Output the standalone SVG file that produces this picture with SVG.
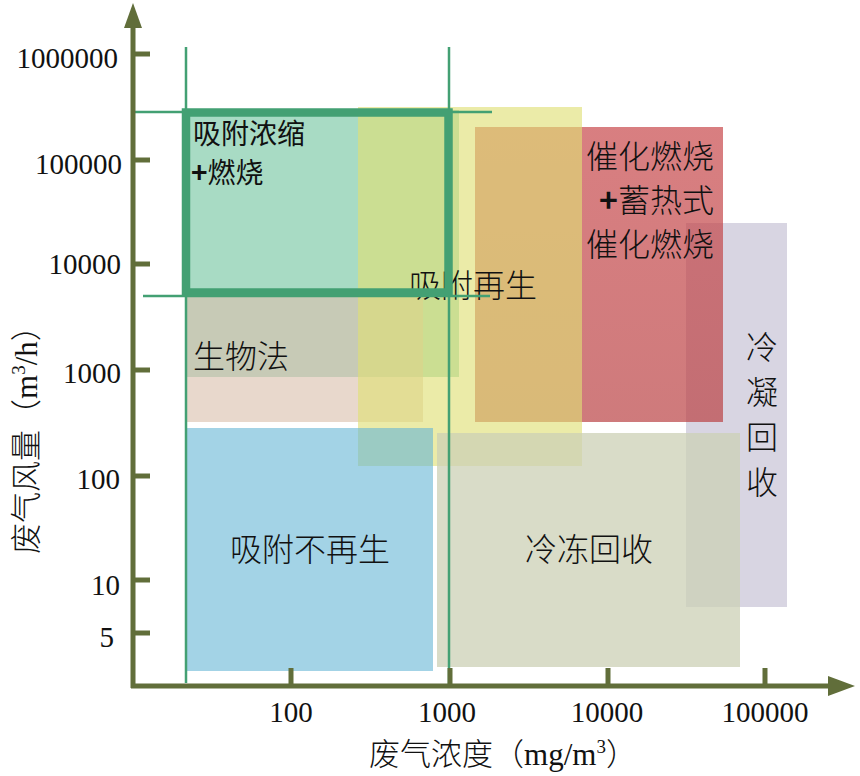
<svg xmlns="http://www.w3.org/2000/svg" width="860" height="776" viewBox="0 0 860 776">
<defs>
<style>
.axis{stroke:#616e3a;stroke-width:5;fill:none}
.tick{stroke:#616e3a;stroke-width:5;fill:none}
.arrow{fill:#616e3a}
.guide{stroke:#43a073;stroke-width:2.5;fill:none}
.frame{stroke:#43a073;stroke-width:8.5;fill:none}
.num{font-family:"Liberation Serif","Times New Roman",serif;font-size:29px;fill:#111}
.lbl{font-family:"Noto Sans CJK SC","Noto Sans",sans-serif;font-size:32px;font-weight:300;fill:#111}
.lblb{font-family:"Noto Sans CJK SC","Noto Sans",sans-serif;font-size:28px;font-weight:400;fill:#111}
.title{font-family:"Liberation Serif","Noto Sans CJK SC",serif;font-size:31px;font-weight:300;fill:#111}
</style>
<linearGradient id="redgrad" x1="0" y1="0" x2="0" y2="1">
<stop offset="0" stop-color="rgb(200,72,75)"/>
<stop offset="1" stop-color="rgb(186,66,68)"/>
</linearGradient>
</defs>
<rect width="860" height="776" fill="#ffffff"/>

<g id="regions">
<g id="adsorb-concentrate">
<rect x="186" y="110" width="273" height="267" fill="#a8dbc4"/>
<text class="lblb" x="193" y="144">吸附浓缩</text>
<text class="lblb" x="191" y="183"><tspan font-weight="700">+</tspan>燃烧</text>
</g>
<g id="biological">
<rect x="186" y="296" width="237" height="126" fill="rgb(218,192,173)" fill-opacity="0.62"/>
<text class="lbl" x="193" y="368">生物法</text>
</g>
<g id="condensation">
<rect x="686" y="223" width="101" height="384" fill="#d8d5e2"/>
<text class="lbl" x="762" y="359" text-anchor="middle">冷</text>
<text class="lbl" x="762" y="404" text-anchor="middle">凝</text>
<text class="lbl" x="762" y="449" text-anchor="middle">回</text>
<text class="lbl" x="762" y="494" text-anchor="middle">收</text>
</g>
<g id="catalytic">
<rect x="475" y="127" width="248" height="295" fill="url(#redgrad)" fill-opacity="0.7"/>
<text class="lbl" x="714" y="168" text-anchor="end">催化燃烧</text>
<text class="lbl" x="714" y="212" text-anchor="end"><tspan font-weight="700">+</tspan>蓄热式</text>
<text class="lbl" x="714" y="256" text-anchor="end">催化燃烧</text>
</g>
<g id="adsorb-regen">
<rect x="358" y="107" width="224" height="359" fill="rgb(223,223,117)" fill-opacity="0.63"/>
<text class="lbl" x="473" y="297" text-anchor="middle">吸附再生</text>
</g>
<g id="adsorb-noregen">
<rect x="186" y="428" width="247" height="243" fill="rgb(102,182,213)" fill-opacity="0.6"/>
<text class="lbl" x="310" y="561" text-anchor="middle">吸附不再生</text>
</g>
<g id="freeze-recovery">
<rect x="437" y="433" width="303" height="234" fill="rgb(204,208,182)" fill-opacity="0.75"/>
<text class="lbl" x="589" y="561" text-anchor="middle">冷冻回收</text>
</g>
</g>

<g id="connectors">
<line class="guide" x1="186" y1="47" x2="186" y2="683"/>
<line class="guide" x1="449" y1="47" x2="449" y2="686"/>
<line class="guide" x1="133" y1="112" x2="492" y2="112"/>
<line class="guide" x1="143" y1="296" x2="490" y2="296"/>
<rect class="frame" x="186" y="112.5" width="262.5" height="180"/>

<line class="axis" x1="133" y1="688" x2="133" y2="26"/>
<polygon class="arrow" points="133,3 124,28 142,28"/>
<line class="axis" x1="131" y1="686" x2="830" y2="686"/>
<polygon class="arrow" points="855,686 828,676 828,696"/>

<line class="tick" x1="133" y1="54" x2="150" y2="54"/>
<line class="tick" x1="133" y1="160" x2="150" y2="160"/>
<line class="tick" x1="133" y1="264" x2="150" y2="264"/>
<line class="tick" x1="133" y1="370" x2="150" y2="370"/>
<line class="tick" x1="133" y1="476" x2="150" y2="476"/>
<line class="tick" x1="133" y1="580" x2="150" y2="580"/>
<line class="tick" x1="133" y1="633" x2="150" y2="633"/>

<line class="tick" x1="291" y1="686" x2="291" y2="668"/>
<line class="tick" x1="450" y1="686" x2="450" y2="668"/>
<line class="tick" x1="608" y1="686" x2="608" y2="668"/>
<line class="tick" x1="765" y1="686" x2="765" y2="668"/>
</g>

<g id="y-labels">
<text class="num" x="118" y="68" text-anchor="end">1000000</text>
<text class="num" x="122" y="174" text-anchor="end">100000</text>
<text class="num" x="121" y="274" text-anchor="end">10000</text>
<text class="num" x="121" y="383" text-anchor="end">1000</text>
<text class="num" x="120" y="489" text-anchor="end">100</text>
<text class="num" x="120" y="595" text-anchor="end">10</text>
<text class="num" x="114" y="647" text-anchor="end">5</text>
</g>
<g id="x-labels">
<text class="num" x="291" y="722" text-anchor="middle">100</text>
<text class="num" x="447" y="722" text-anchor="middle">1000</text>
<text class="num" x="607" y="722" text-anchor="middle">10000</text>
<text class="num" x="765" y="722" text-anchor="middle">100000</text>
</g>

<g id="axis-titles">
<text class="title" x="503" y="765" text-anchor="middle">废气浓度（mg/m<tspan dy="-12" font-size="19">3</tspan><tspan dy="12">）</tspan></text>
<text class="title" transform="translate(37,432) rotate(-90)" x="0" y="0" text-anchor="middle">废气风量（m<tspan dy="-12" font-size="19">3</tspan><tspan dy="12">/h）</tspan></text>
</g>
</svg>
